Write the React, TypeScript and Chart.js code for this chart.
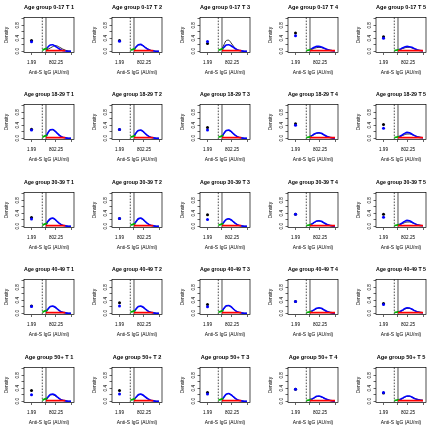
import React, { useEffect, useRef } from 'react';
import { Chart, registerables } from 'chart.js';
Chart.register(...registerables);

// ---- labels ----
const AGE_GROUPS = ['0-17', '18-29', '30-39', '40-49', '50+'];
const TIME_POINTS = ['T 1', 'T 2', 'T 3', 'T 4', 'T 5'];
const X_TITLE = 'Anti-S IgG (AU/ml)';
const Y_TITLE = 'Density';

// ---- axes (x in log10 AU/ml) ----
const X_MIN = -0.5;
const X_MAX = 4.82;
const LOD_X = Math.log10(1.99);
const DASHED_X = 1.446;
const SOLID_X = 1.84;
const X_TICKS = [Math.log10(1.99), SOLID_X, Math.log10(802.25), 4.6];
const X_TICK_LABELS = ['1.99', '', '802.25', ''];
const Y_MIN = -0.04;
const Y_MAX = 1.04;
const Y_TICKS = [0, 0.2, 0.4, 0.6, 0.8, 1.0];
const Y_TICK_LABELS = ['0.0', '', '0.4', '', '0.8', ''];

// ---- grid of curve evaluation points ----
const GRID_X = [1.84, 2.05, 2.3, 2.55, 2.8, 3.05, 3.3, 3.6, 3.9, 4.2, 4.5];
const GREEN_X = [1.45, 1.65, 1.84, 2.0];

// ---- point masses at LOD (rows = age group, cols = time point) ----
const BLACK_POINTS = [
  [0.33, 0.33, 0.24, 0.56, 0.45],
  [0.28, 0.27, 0.33, 0.45, 0.42],
  [0.27, 0.24, 0.35, 0.37, 0.37],
  [0.22, 0.32, 0.27, 0.36, 0.3],
  [0.33, 0.33, 0.27, 0.37, 0.25],
];
const BLUE_POINTS = [
  [0.29, 0.31, 0.3, 0.48, 0.4],
  [0.25, 0.27, 0.25, 0.4, 0.31],
  [0.22, 0.24, 0.21, 0.37, 0.28],
  [0.21, 0.22, 0.2, 0.36, 0.27],
  [0.2, 0.22, 0.22, 0.37, 0.27],
];

// ---- blue density curves ----
const BLUE_0_17 = [
  [0.05, 0.13, 0.19, 0.2, 0.16, 0.11, 0.06, 0.02, 0.005, 0, 0],
  [0.05, 0.13, 0.2, 0.21, 0.17, 0.11, 0.06, 0.025, 0.01, 0, 0],
  [0.05, 0.12, 0.19, 0.2, 0.17, 0.12, 0.07, 0.03, 0.01, 0, 0],
  [0.05, 0.08, 0.12, 0.15, 0.15, 0.13, 0.1, 0.06, 0.03, 0.015, 0.005],
  [0.04, 0.06, 0.1, 0.13, 0.15, 0.14, 0.12, 0.08, 0.04, 0.02, 0.01],
];
const BLUE_18_29 = [
  [0.06, 0.17, 0.26, 0.27, 0.22, 0.15, 0.08, 0.03, 0.01, 0, 0],
  [0.06, 0.16, 0.24, 0.25, 0.21, 0.14, 0.08, 0.03, 0.01, 0, 0],
  [0.05, 0.15, 0.24, 0.25, 0.21, 0.14, 0.08, 0.03, 0.01, 0, 0],
  [0.05, 0.08, 0.13, 0.16, 0.17, 0.15, 0.11, 0.06, 0.03, 0.01, 0],
  [0.04, 0.06, 0.1, 0.15, 0.18, 0.17, 0.13, 0.08, 0.04, 0.02, 0.01],
];
const BLUE_30_39 = [
  [0.05, 0.15, 0.23, 0.25, 0.21, 0.14, 0.08, 0.03, 0.01, 0, 0],
  [0.05, 0.14, 0.23, 0.25, 0.21, 0.14, 0.08, 0.03, 0.01, 0, 0],
  [0.05, 0.13, 0.21, 0.23, 0.2, 0.14, 0.08, 0.03, 0.01, 0, 0],
  [0.04, 0.07, 0.12, 0.16, 0.17, 0.15, 0.11, 0.06, 0.03, 0.01, 0],
  [0.04, 0.06, 0.1, 0.15, 0.18, 0.17, 0.13, 0.08, 0.04, 0.02, 0.01],
];
const BLUE_40_49 = [
  [0.05, 0.13, 0.21, 0.22, 0.19, 0.13, 0.07, 0.03, 0.01, 0, 0],
  [0.05, 0.13, 0.21, 0.22, 0.19, 0.13, 0.07, 0.03, 0.01, 0, 0],
  [0.05, 0.15, 0.23, 0.24, 0.2, 0.13, 0.07, 0.03, 0.01, 0, 0],
  [0.04, 0.07, 0.11, 0.15, 0.17, 0.15, 0.11, 0.06, 0.03, 0.01, 0],
  [0.03, 0.05, 0.09, 0.14, 0.17, 0.16, 0.13, 0.08, 0.04, 0.02, 0.01],
];
const BLUE_50_PLUS = [
  [0.05, 0.13, 0.21, 0.22, 0.19, 0.13, 0.07, 0.03, 0.01, 0, 0],
  [0.05, 0.12, 0.2, 0.22, 0.19, 0.13, 0.08, 0.03, 0.01, 0, 0],
  [0.04, 0.13, 0.22, 0.24, 0.2, 0.14, 0.08, 0.03, 0.01, 0, 0],
  [0.05, 0.07, 0.11, 0.15, 0.16, 0.14, 0.1, 0.06, 0.03, 0.01, 0],
  [0.03, 0.05, 0.09, 0.13, 0.16, 0.16, 0.13, 0.08, 0.05, 0.03, 0.02],
];

// ---- black density curves ----
const BLACK_0_17 = [
  [0.03, 0.06, 0.1, 0.14, 0.17, 0.16, 0.12, 0.07, 0.03, 0.01, 0],
  [0.05, 0.12, 0.19, 0.2, 0.17, 0.12, 0.07, 0.03, 0.01, 0, 0],
  [0.06, 0.2, 0.33, 0.34, 0.26, 0.16, 0.08, 0.03, 0.01, 0, 0],
  [0.04, 0.06, 0.09, 0.11, 0.12, 0.11, 0.09, 0.06, 0.04, 0.02, 0.01],
  [0.03, 0.05, 0.08, 0.1, 0.12, 0.12, 0.1, 0.07, 0.04, 0.02, 0.01],
];
const BLACK_18_29 = [
  [0.06, 0.16, 0.25, 0.26, 0.22, 0.15, 0.08, 0.03, 0.01, 0, 0],
  [0.06, 0.15, 0.23, 0.24, 0.21, 0.14, 0.08, 0.03, 0.01, 0, 0],
  [0.05, 0.14, 0.23, 0.24, 0.2, 0.14, 0.08, 0.03, 0.01, 0, 0],
  [0.05, 0.08, 0.12, 0.15, 0.16, 0.14, 0.1, 0.06, 0.03, 0.01, 0],
  [0.03, 0.05, 0.08, 0.11, 0.13, 0.13, 0.11, 0.08, 0.05, 0.03, 0.02],
];
const BLACK_30_39 = [
  [0.05, 0.14, 0.22, 0.24, 0.21, 0.14, 0.08, 0.03, 0.01, 0, 0],
  [0.05, 0.14, 0.22, 0.24, 0.2, 0.14, 0.08, 0.03, 0.01, 0, 0],
  [0.05, 0.12, 0.2, 0.22, 0.19, 0.13, 0.08, 0.03, 0.01, 0, 0],
  [0.04, 0.07, 0.11, 0.15, 0.16, 0.14, 0.1, 0.06, 0.03, 0.01, 0],
  [0.03, 0.05, 0.08, 0.11, 0.13, 0.13, 0.11, 0.08, 0.05, 0.03, 0.02],
];
const BLACK_40_49 = [
  [0.05, 0.12, 0.2, 0.21, 0.18, 0.13, 0.07, 0.03, 0.01, 0, 0],
  [0.05, 0.12, 0.2, 0.21, 0.18, 0.12, 0.07, 0.03, 0.01, 0, 0],
  [0.05, 0.14, 0.22, 0.23, 0.19, 0.13, 0.07, 0.03, 0.01, 0, 0],
  [0.04, 0.06, 0.1, 0.14, 0.16, 0.14, 0.1, 0.06, 0.03, 0.01, 0],
  [0.03, 0.05, 0.08, 0.12, 0.15, 0.15, 0.12, 0.08, 0.05, 0.03, 0.02],
];
const BLACK_50_PLUS = [
  [0.05, 0.12, 0.19, 0.2, 0.17, 0.12, 0.07, 0.03, 0.01, 0, 0],
  [0.05, 0.11, 0.19, 0.21, 0.18, 0.12, 0.07, 0.03, 0.01, 0, 0],
  [0.04, 0.12, 0.21, 0.23, 0.19, 0.13, 0.07, 0.03, 0.01, 0, 0],
  [0.04, 0.06, 0.1, 0.14, 0.15, 0.13, 0.1, 0.06, 0.03, 0.01, 0],
  [0.03, 0.05, 0.08, 0.12, 0.15, 0.15, 0.13, 0.09, 0.06, 0.04, 0.03],
];

// ---- red and green curves, by time point ----
const RED_BY_TIME = [
  [0.02, 0.02, 0.02, 0.02, 0.02, 0.02, 0.02, 0.02, 0.02, null, null],
  [0.02, 0.02, 0.02, 0.02, 0.02, 0.02, 0.02, 0.02, 0.02, null, null],
  [0.02, 0.02, 0.02, 0.02, 0.02, 0.02, 0.02, 0.02, 0.02, null, null],
  [0.02, 0.02, 0.02, 0.02, 0.02, 0.02, 0.02, 0.02, 0.02, 0.02, 0.02],
  [0.02, 0.02, 0.02, 0.02, 0.02, 0.02, 0.02, 0.02, 0.02, 0.02, 0.02],
];
const GREEN_BY_TIME = [
  [0.03, 0.06, 0.08, 0.09],
  [0.03, 0.05, 0.07, 0.08],
  [0.03, 0.05, 0.07, 0.08],
  [0.02, 0.03, 0.04, 0.05],
  [0.02, 0.03, 0.04, 0.05],
];

const BLUE_CURVES = [BLUE_0_17, BLUE_18_29, BLUE_30_39, BLUE_40_49, BLUE_50_PLUS];
const BLACK_CURVES = [BLACK_0_17, BLACK_18_29, BLACK_30_39, BLACK_40_49, BLACK_50_PLUS];

const PANEL_W = 88;
const PANEL_H = 87;
const ROW_PITCH = 87.4;
const FONT = 'Liberation Sans, Arial, Helvetica, sans-serif';

function toXY(xs: number[], ys: (number | null)[]) {
  const out: { x: number; y: number }[] = [];
  xs.forEach((x, i) => {
    const y = ys[i];
    if (y !== null && y !== undefined) out.push({ x, y });
  });
  return out;
}

const framePlugin = {
  id: 'rframe',
  beforeDatasetsDraw(chart: any) {
    const { ctx, chartArea: a, scales } = chart;
    ctx.save();
    ctx.strokeStyle = '#000';
    ctx.lineWidth = 0.7;
    const xd = scales.x.getPixelForValue(DASHED_X);
    ctx.setLineDash([1.6, 1.4]);
    ctx.beginPath();
    ctx.moveTo(xd, a.top);
    ctx.lineTo(xd, a.bottom);
    ctx.stroke();
    ctx.setLineDash([]);
    const xs = scales.x.getPixelForValue(SOLID_X);
    ctx.beginPath();
    ctx.moveTo(xs, a.top);
    ctx.lineTo(xs, a.bottom);
    ctx.stroke();
    ctx.restore();
  },
  afterDraw(chart: any) {
    const { ctx, chartArea: a } = chart;
    ctx.save();
    ctx.strokeStyle = '#000';
    ctx.lineWidth = 0.7;
    ctx.strokeRect(a.left, a.top, a.right - a.left, a.bottom - a.top);
    ctx.restore();
  },
};

function Panel({ row, col }: { row: number; col: number }) {
  const ref = useRef<HTMLCanvasElement>(null);
  useEffect(() => {
    if (!ref.current) return;
    const lineBase = { pointRadius: 0, cubicInterpolationMode: 'monotone' as const, fill: false };
    const chart = new Chart(ref.current, {
      type: 'line',
      data: {
        datasets: [
          {
            data: [{ x: LOD_X, y: BLUE_POINTS[row][col] }],
            showLine: false,
            pointRadius: 1.5,
            pointBackgroundColor: '#0000FF',
            pointBorderWidth: 0,
          },
          {
            data: [{ x: LOD_X, y: BLACK_POINTS[row][col] }],
            showLine: false,
            pointRadius: 1.5,
            pointBackgroundColor: '#000000',
            pointBorderWidth: 0,
          },
          { ...lineBase, data: toXY(GRID_X, RED_BY_TIME[col]), borderColor: '#FF0000', borderWidth: 1.8 },
          { ...lineBase, data: toXY(GREEN_X, GREEN_BY_TIME[col]), borderColor: '#00B000', borderWidth: 1.7 },
          { ...lineBase, data: toXY(GRID_X, BLUE_CURVES[row][col]), borderColor: '#0000FF', borderWidth: 1.6 },
          { ...lineBase, data: toXY(GRID_X, BLACK_CURVES[row][col]), borderColor: '#000000', borderWidth: 0.8 },
        ] as any,
      },
      options: {
        animation: false,
        responsive: false,
        maintainAspectRatio: false,
        events: [],
        layout: { padding: { top: 0, right: 14, bottom: 0, left: 0 } },
        plugins: {
          legend: { display: false },
          tooltip: { enabled: false },
          title: {
            display: true,
            text: `Age group ${AGE_GROUPS[row]} ${TIME_POINTS[col]}`,
            color: '#000',
            font: { family: FONT, size: 5.6, weight: 'bold', lineHeight: 1.2 },
            padding: { top: 3.6, bottom: 7.2 },
            fullSize: false,
          },
        },
        scales: {
          x: {
            type: 'linear',
            min: X_MIN,
            max: X_MAX,
            afterBuildTicks: (s: any) => {
              s.ticks = X_TICKS.map((v) => ({ value: v }));
            },
            afterFit: (s: any) => {
              s.height = PANEL_H - 52.5;
            },
            ticks: {
              autoSkip: false,
              maxRotation: 0,
              minRotation: 0,
              padding: 4.5,
              color: '#000',
              font: { family: FONT, size: 4.6 },
              callback: (_v: any, i: number) => X_TICK_LABELS[i],
            },
            grid: { drawOnChartArea: false, drawTicks: true, tickLength: 2.5, color: '#000', lineWidth: 0.6 },
            border: { display: false },
            title: {
              display: true,
              text: X_TITLE,
              color: '#000',
              font: { family: FONT, size: 4.9, lineHeight: 1.2 },
              padding: { top: 0, bottom: 11.5 },
            },
          },
          y: {
            type: 'linear',
            min: Y_MIN,
            max: Y_MAX,
            afterBuildTicks: (s: any) => {
              s.ticks = Y_TICKS.map((v) => ({ value: v }));
            },
            afterFit: (s: any) => {
              s.width = 24;
            },
            ticks: {
              autoSkip: false,
              minRotation: 90,
              maxRotation: 90,
              crossAlign: 'center',
              padding: 1,
              color: '#000',
              font: { family: FONT, size: 4.6 },
              callback: (_v: any, i: number) => Y_TICK_LABELS[i],
            },
            grid: { drawOnChartArea: false, drawTicks: true, tickLength: 2.5, color: '#000', lineWidth: 0.6 },
            border: { display: false },
            title: {
              display: true,
              text: Y_TITLE,
              color: '#000',
              font: { family: FONT, size: 4.9, lineHeight: 1.2 },
              padding: { top: 4.2, bottom: 0 },
            },
          },
        },
      } as any,
      plugins: [framePlugin],
    });
    return () => chart.destroy();
  }, [row, col]);
  return (
    <canvas
      ref={ref}
      width={PANEL_W}
      height={PANEL_H}
      style={{
        position: 'absolute',
        left: col * PANEL_W,
        top: Math.round(row * ROW_PITCH),
        width: PANEL_W,
        height: PANEL_H,
      }}
    />
  );
}

export default function App() {
  const panels = [];
  for (let r = 0; r < AGE_GROUPS.length; r++) {
    for (let c = 0; c < TIME_POINTS.length; c++) {
      panels.push(<Panel key={`${r}-${c}`} row={r} col={c} />);
    }
  }
  return (
    <div
      style={{
        position: 'fixed',
        left: 0,
        top: 0,
        width: 440,
        height: 431,
        overflow: 'hidden',
        background: '#fff',
      }}
    >
      {panels}
    </div>
  );
}
